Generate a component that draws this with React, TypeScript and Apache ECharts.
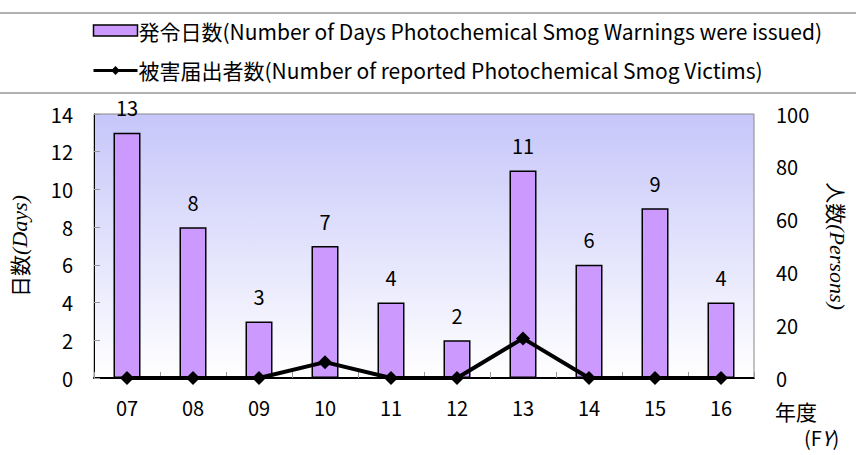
import React, { useEffect, useRef } from "react";
import * as echarts from "echarts";

const categories = ["07", "08", "09", "10", "11", "12", "13", "14", "15", "16"];
const warningDays = [13, 8, 3, 7, 4, 2, 11, 6, 9, 4];
const victims = [0, 0, 0, 6, 0, 0, 15, 0, 0, 0];
const leftTicks = { min: 0, max: 14, interval: 2 };
const rightTicks = { min: 0, max: 100, interval: 20 };
const barName = "発令日数(Number of Days Photochemical Smog Warnings were issued)";
const lineName = "被害届出者数(Number of reported Photochemical Smog Victims)";

const FONT = "'Noto Sans CJK JP', 'Noto Sans', sans-serif";
const SERIF = "'Liberation Serif', 'DejaVu Serif', serif";

export default function App() {
  const ref = useRef<HTMLDivElement>(null);
  useEffect(() => {
    if (!ref.current) return;
    const chart = echarts.init(ref.current, null, { renderer: "svg" });
    chart.setOption({
      animation: false,
      backgroundColor: "#ffffff",
      textStyle: { fontFamily: FONT, color: "#000" },
      legend: {
        orient: "vertical",
        left: 87,
        top: 15,
        itemWidth: 44,
        itemHeight: 11,
        itemGap: 19,
        textStyle: { fontSize: 21, color: "#000", fontFamily: FONT, padding: [0, 0, 0, -4] },
        data: [
          { name: barName, icon: "rect", itemStyle: { color: "#CC99FF", borderColor: "#000", borderWidth: 1.5 } },
          { name: lineName, lineStyle: { color: "#000", width: 3 }, itemStyle: { color: "#000" } },
        ],
      },
      graphic: [
        { type: "line", shape: { x1: 0, y1: 13, x2: 856, y2: 13 }, style: { stroke: "#666", lineWidth: 1 } },
        { type: "line", shape: { x1: 0, y1: 93, x2: 856, y2: 93 }, style: { stroke: "#666", lineWidth: 1 } },
        { type: "text", left: 775, top: 400, style: { text: "年度", fontSize: 21, fontFamily: FONT, fill: "#000" } },
        {
          type: "text",
          left: 804,
          top: 427,
          style: {
            text: "{n|(F}{i|Y}{n|)}",
            fontSize: 20,
            fontFamily: FONT,
            fill: "#000",
            rich: {
              n: { fontSize: 20, fontFamily: FONT, fill: "#000" },
              i: { fontSize: 20, fontFamily: FONT, fontStyle: "italic", fill: "#000" },
            },
          },
        },
      ],
      grid: {
        left: 91,
        right: 100,
        top: 114,
        bottom: 77,
        show: true,
        borderColor: "#888",
        borderWidth: 1,
        backgroundColor: new echarts.graphic.LinearGradient(0, 0, 0, 1, [
          { offset: 0, color: "#C6C6FA" },
          { offset: 1, color: "#FFFFFF" },
        ]),
      },
      xAxis: {
        type: "category",
        data: categories,
        axisLine: { show: true, lineStyle: { color: "#000", width: 2 } },
        axisTick: { show: true, inside: true, length: 6, lineStyle: { color: "#999" } },
        axisLabel: { fontSize: 20, color: "#000", margin: 19, fontFamily: FONT },
        splitLine: { show: false },
      },
      yAxis: [
        {
          type: "value",
          min: leftTicks.min,
          max: leftTicks.max,
          interval: leftTicks.interval,
          axisLine: { show: true, lineStyle: { color: "#000", width: 1 } },
          axisTick: { show: true, inside: true, length: 6, lineStyle: { color: "#999" } },
          axisLabel: { fontSize: 20, color: "#000", margin: 21, fontFamily: FONT },
          splitLine: { show: false },
          name: "{a|日数}{b|(Days)}",
          nameLocation: "middle",
          nameGap: 64,
          nameRotate: 90,
          nameTextStyle: {
            rich: {
              a: { fontSize: 21, fontFamily: FONT, color: "#000" },
              b: { fontSize: 22, fontFamily: SERIF, fontStyle: "italic", color: "#000" },
            },
          },
        },
        {
          type: "value",
          min: rightTicks.min,
          max: rightTicks.max,
          interval: rightTicks.interval,
          axisLine: { show: false },
          axisTick: { show: false },
          axisLabel: { fontSize: 20, color: "#000", margin: 22, fontFamily: FONT },
          splitLine: { show: false },
          name: "{a|人数}{b|(Persons)}",
          nameLocation: "middle",
          nameGap: 72,
          nameRotate: -90,
          nameTextStyle: {
            rich: {
              a: { fontSize: 21, fontFamily: FONT, color: "#000" },
              b: { fontSize: 22, fontFamily: SERIF, fontStyle: "italic", color: "#000" },
            },
          },
        },
      ],
      series: [
        {
          name: barName,
          type: "bar",
          data: warningDays,
          barWidth: 27,
          itemStyle: { color: "#CC99FF", borderColor: "#000", borderWidth: 1.5 },
          label: { show: true, position: "top", distance: 15, fontSize: 20, color: "#000", fontFamily: FONT },
        },
        {
          name: lineName,
          type: "line",
          yAxisIndex: 1,
          data: victims,
          symbol: "diamond",
          symbolSize: 14,
          lineStyle: { color: "#000", width: 4 },
          itemStyle: { color: "#000" },
          z: 5,
        },
      ],
    });
    return () => chart.dispose();
  }, []);
  return (
    <div
      ref={ref}
      style={{ position: "absolute", left: 0, top: 0, width: 856, height: 455 }}
    />
  );
}
